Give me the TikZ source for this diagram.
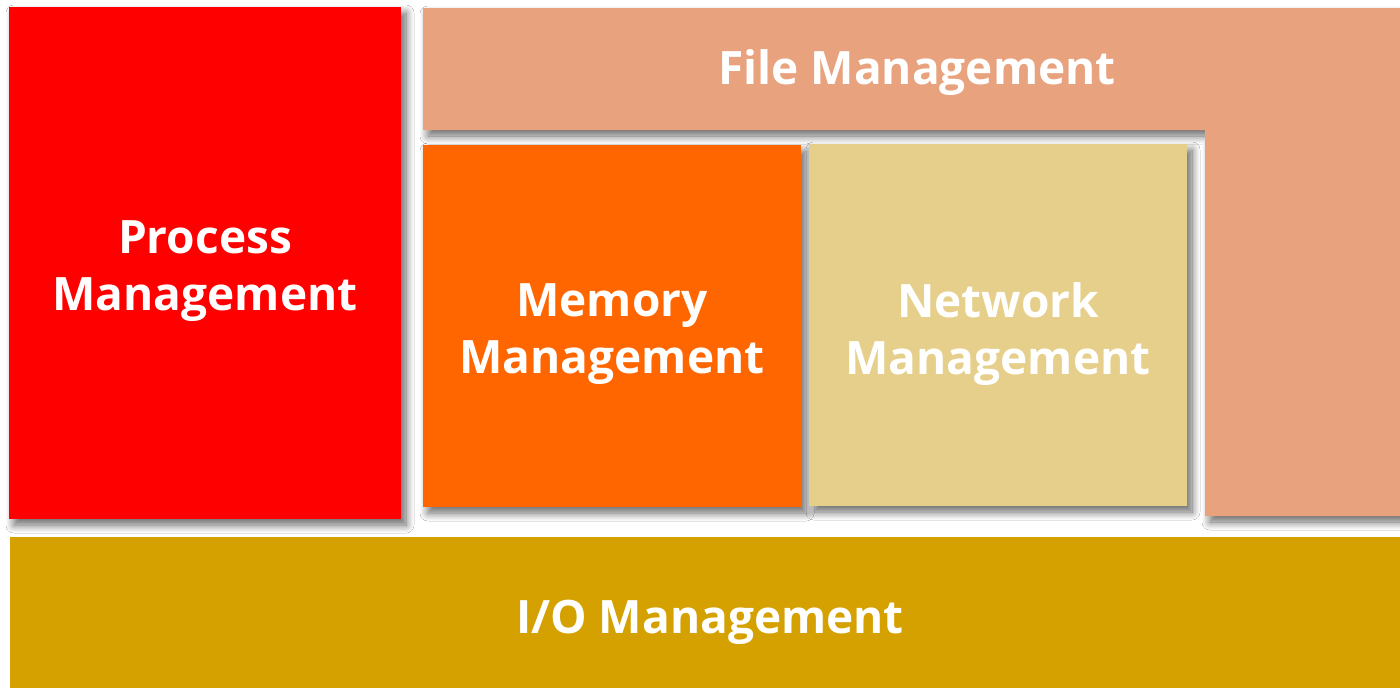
\documentclass[tikz,border=0pt]{standalone}
\usepackage{fontspec}
\setmainfont{Open Sans}
\usetikzlibrary{shadows.blur}
\definecolor{procred}{HTML}{FF0000}
\definecolor{memorange}{HTML}{FF6600}
\definecolor{netbeige}{HTML}{E6CF8B}
\definecolor{filesalmon}{HTML}{E8A27E}
\definecolor{iogold}{HTML}{D5A100}
\tikzset{
  shade box/.style={blur shadow={shadow xshift=5pt, shadow yshift=-6pt, shadow blur radius=8pt, shadow blur steps=12, shadow opacity=60}},
  boxshape/.style={rectangle, inner sep=0pt, outer sep=0pt},
  label text/.style={inner sep=0pt, text=white, font=\bfseries\fontsize{46}{57}\selectfont, align=center},
}
\begin{document}
\begin{tikzpicture}[x=1pt,y=-1pt]
\useasboundingbox[fill=white] (0,0) rectangle (1400,688);
% File management L-shape
\fill[filesalmon, shade box] (423,8) -- (1400,8) -- (1400,516) -- (1205,516) -- (1205,130) -- (423,130) -- cycle;
\node[label text] (file) at (917,73) {File Management};
% Process
\node[boxshape, fill=procred, shade box, minimum width=392pt, minimum height=512pt] (proc) at (205,263) {};
\node[label text] (proctext) at ([yshift=-8pt]proc.center) {Process\\Management};
% Memory
\node[boxshape, fill=memorange, shade box, minimum width=378pt, minimum height=362pt] (mem) at (612,326) {};
\node[label text] (memtext) at ([yshift=-8pt]mem.center) {Memory\\Management};
% Network
\node[boxshape, fill=netbeige, shade box, minimum width=378pt, minimum height=362pt] (net) at (998,325) {};
\node[label text] (nettext) at ([yshift=-9pt]net.center) {Network\\Management};
% I/O
\node[boxshape, fill=iogold, minimum width=1390pt, minimum height=151pt] (iobox) at (705,612.5) {};
\node[label text] (io) at (710,622) {I/O Management};
\end{tikzpicture}
\end{document}
